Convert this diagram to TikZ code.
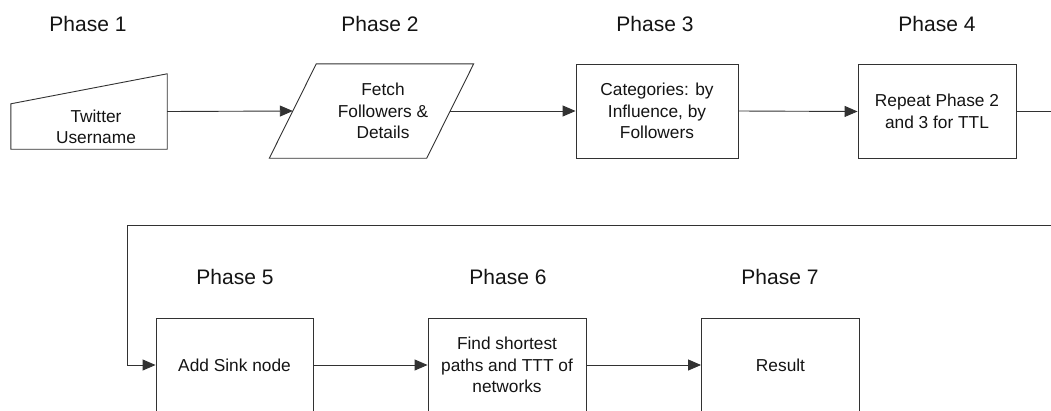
\documentclass[tikz,border=0pt]{standalone}
\usepackage{fontspec}
\setmainfont{Liberation Sans}
\usetikzlibrary{arrows.meta}
\definecolor{linec}{RGB}{50,50,50}
\definecolor{textc}{RGB}{20,20,20}
\begin{document}
\begin{tikzpicture}[x=1pt,y=-1pt,
  phaselbl/.style={font=\fontsize{21}{25}\selectfont, text=textc, anchor=base, inner sep=0pt},
  boxtxt/.style={font=\fontsize{17.3}{21.5}\selectfont, text=textc, align=center},
  stepbox/.style={draw=linec, line width=0.9pt, minimum width=158pt, minimum height=94pt, inner sep=2pt, font=\fontsize{17.3}{21.5}\selectfont, text=textc, align=center},
  ghost/.style={draw=none, inner sep=0pt},
  arr/.style={draw=linec, line width=0.9pt, -{Triangle[length=13pt,width=11pt]}},
  ln/.style={draw=linec, line width=0.9pt}
]
\useasboundingbox (0,0) rectangle (1051,410);
\clip (0,0) rectangle (1051,410);
\fill[white] (0,0) rectangle (1051,410);

% phase labels
\node[phaselbl] (l1) at (88,31) {Phase 1};
\node[phaselbl] (l2) at (380,31) {Phase 2};
\node[phaselbl] (l3) at (655,31) {Phase 3};
\node[phaselbl] (l4) at (937,31) {Phase 4};
\node[phaselbl] (l5) at (235,284) {Phase 5};
\node[phaselbl] (l6) at (508,284) {Phase 6};
\node[phaselbl] (l7) at (780,284) {Phase 7};

% Phase 1: manual input shape
\node[ghost, minimum width=156pt, minimum height=75pt] (p1) at (89,111.5) {};
\draw[ln] (p1.south west) -- (p1.south east) -- (p1.north east) -- ([yshift=-30pt]p1.north west) -- cycle;
\node[boxtxt] (t1) at (96,127) {Twitter\\Username};

% Phase 2: parallelogram
\node[ghost, minimum width=157pt, minimum height=94pt] (p2) at (371.5,111) {};
\draw[ln] ([xshift=-23.5pt]p2.south west) -- ([xshift=-23.5pt]p2.south east) -- ([xshift=23.5pt]p2.north east) -- ([xshift=23.5pt]p2.north west) -- cycle;
\node[boxtxt] (t2) at (383,111) {Fetch\\Followers \&\\Details};

% Phase 3, 4
\node[stepbox, minimum width=162pt] (p3) at (657,111) {Categories: by\\Influence, by\\Followers};
\node[stepbox] (p4) at (937,111.5) {Repeat Phase 2\\and 3 for TTL};

% Phase 5, 6, 7
\node[stepbox, minimum width=157pt] (p5) at (234.5,365) {Add Sink node};
\node[stepbox] (p6) at (507,365) {Find shortest\\paths and TTT of\\networks};
\node[stepbox] (p7) at (780.5,365) {Result};

% connectors
\draw[arr] (p1.east) -- (p2.west);
\draw[arr] (p2.east) -- (p3.west);
\draw[arr] (p3.east) -- (p4.west);
\coordinate (turnR) at (1062,225);
\coordinate (turnL) at (127,225);
\draw[arr] (p4.east) -| (turnR) -- (turnL) |- (p5.west);
\draw[arr] (p5.east) -- (p6.west);
\draw[arr] (p6.east) -- (p7.west);
\end{tikzpicture}
\end{document}
